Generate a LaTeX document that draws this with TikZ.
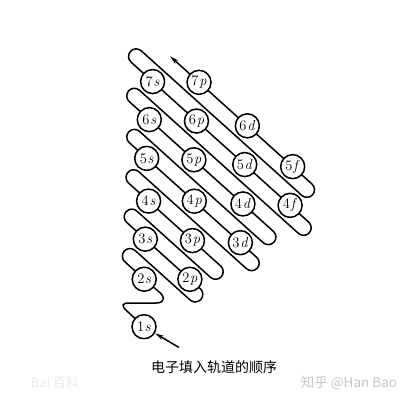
\documentclass[tikz,border=0pt]{standalone}
\usepackage{fontspec}
\newfontfamily\cjk{Noto Sans CJK SC}
\usetikzlibrary{arrows.meta}
\pgfdeclarelayer{back}
\pgfdeclarelayer{bg}
\pgfsetlayers{back,bg,main}
\tikzset{
  orb/.style={circle,draw=black,line width=1.5pt,fill=white,minimum size=24pt,inner sep=0pt,font=\fontsize{14.5}{14.5}\selectfont},
  band/.style={draw=black,line width=1.5pt,line join=round},
  tipped/.style={-{Stealth[length=9pt,width=4.5pt]}},
}
\newcommand{\orbl}[2]{#1\kern0.8pt\textit{#2}}
\begin{document}
\begin{tikzpicture}[x=1pt,y=1pt]
\useasboundingbox (0,0) rectangle (409,-404);
\begin{pgfonlayer}{back}
\fill[white] (0,0) rectangle (409,-404);
\end{pgfonlayer}
\node[orb] (o1s) at (144,-326.7) {\orbl{1}{s}};
\begin{scope}[rotate=-42]
  \node[orb] (o2s) at (294,-111) {\orbl{2}{s}};
  \node[orb] (o2p) at (328,-80.5) {\orbl{2}{p}};
  \node[orb] (o3s) at (268,-80.5) {\orbl{3}{s}};
  \node[orb] (o3p) at (304,-50) {\orbl{3}{p}};
  \node[orb] (o4s) at (245,-50) {\orbl{4}{s}};
  \node[orb] (o3d) at (341,-19.5) {\orbl{3}{d}};
  \node[orb] (o4p) at (279,-19.5) {\orbl{4}{p}};
  \node[orb] (o5s) at (215,-19.5) {\orbl{5}{s}};
  \node[orb] (o4d) at (317,11) {\orbl{4}{d}};
  \node[orb] (o5p) at (251,11) {\orbl{5}{p}};
  \node[orb] (o6s) at (191,11) {\orbl{6}{s}};
  \node[orb] (o4f) at (353,41.5) {\orbl{4}{f}};
  \node[orb] (o5d) at (292,41.5) {\orbl{5}{d}};
  \node[orb] (o6p) at (227,41.5) {\orbl{6}{p}};
  \node[orb] (o7s) at (168,41.5) {\orbl{7}{s}};
  \node[orb] (o5f) at (329,72) {\orbl{5}{f}};
  \node[orb] (o6d) at (268,72) {\orbl{6}{d}};
  \node[orb] (o7p) at (203,72) {\orbl{7}{p}};
  \coordinate (top) at (164,72);
  \begin{pgfonlayer}{bg}
  \draw[band,tipped] (o2s.center) -- (268,-111)
     arc[start angle=270,end angle=90,radius=7.625] -- (342,-95.75)
     arc[start angle=270,end angle=450,radius=7.625] -- (243,-80.5)
     arc[start angle=270,end angle=90,radius=7.625] -- (342,-65.25)
     arc[start angle=270,end angle=450,radius=7.625] -- (218,-50)
     arc[start angle=270,end angle=90,radius=7.625] -- (363,-34.75)
     arc[start angle=270,end angle=450,radius=7.625] -- (191.5,-19.5)
     arc[start angle=270,end angle=90,radius=7.625] -- (358,-4.25)
     arc[start angle=270,end angle=450,radius=7.625] -- (164,11)
     arc[start angle=270,end angle=90,radius=7.625] -- (378,26.25)
     arc[start angle=270,end angle=450,radius=7.625] -- (139,41.5)
     arc[start angle=270,end angle=90,radius=7.625] -- (355,56.75)
     arc[start angle=270,end angle=450,radius=7.625] -- (top);
  \end{pgfonlayer}
\end{scope}
\begin{pgfonlayer}{bg}
\draw[band] (o1s.center) -- (128,-312) .. controls (120,-305) and (122,-303) .. (130,-303)
   -- (156,-303) .. controls (166,-303) and (165,-296) .. (158,-291) -- (o2s.center);
\end{pgfonlayer}
\coordinate (tail) at (179,-347.5);
\draw[band,tipped] (tail) -- (o1s);
\node[font=\cjk\fontsize{14}{14}\selectfont] (caption) at (214,-366.7) {电子填入轨道的顺序};
\node[font=\cjk\fontsize{13.5}{14}\selectfont,text=black!22] (wm) at (349,-382.5) {知乎 @Han Bao};
\node[font=\cjk\fontsize{13}{14}\selectfont,text=black!8] (bd) at (55,-383) {Bai 百科};
\end{tikzpicture}
\end{document}
